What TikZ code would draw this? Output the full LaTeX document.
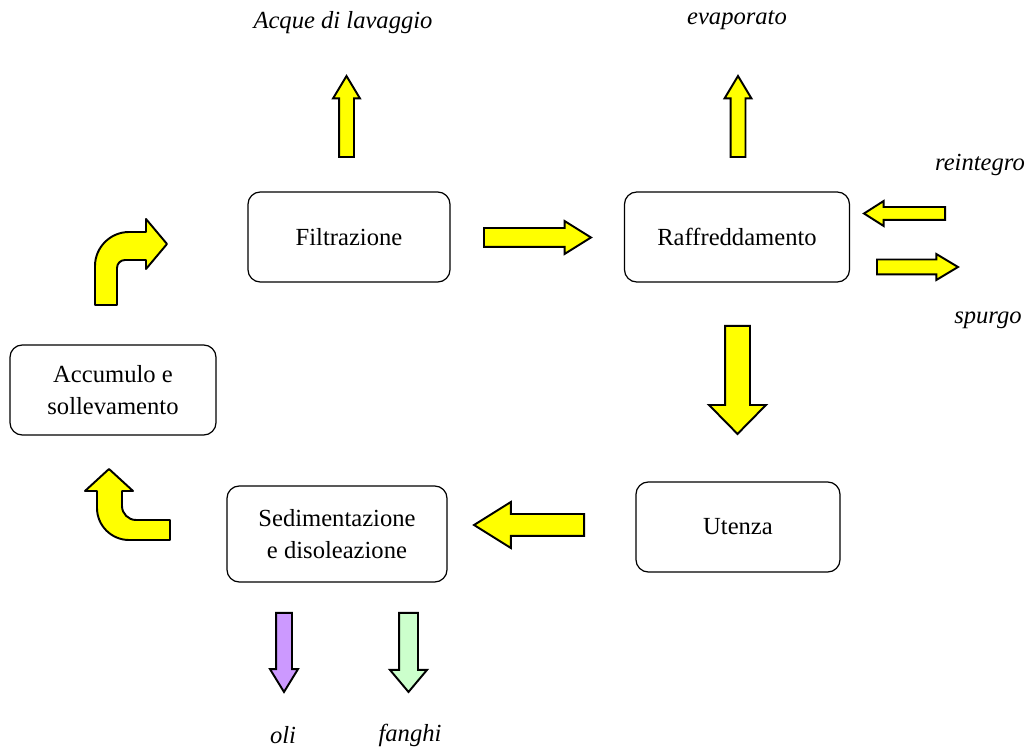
\documentclass[tikz,border=0pt]{standalone}
\usepackage{fontspec}
\setmainfont{Liberation Serif}
\usepackage{tikz}
\usetikzlibrary{arrows}
\usetikzlibrary{shapes}
\usetikzlibrary{shapes.arrows}
\usetikzlibrary{positioning}
\newcommand{\px}{*0.02cm}
\newcommand{\boxfont}{\fontsize{14}{18.5}\selectfont}
\definecolor{giallo}{RGB}{255,255,0}
\definecolor{viola}{RGB}{204,153,255}
\definecolor{verde}{RGB}{204,255,204}
\tikzstyle{block}    = [draw, line width=0.7pt, rectangle, rounded corners=7pt, minimum height=90\px, minimum width=204\px, align=center, font=\boxfont]
\tikzstyle{freccia}  = [draw, line width=1.1pt, single arrow, inner xsep=0pt, fill=giallo, single arrow head indent=0pt, anchor=tail]
\tikzstyle{curva}    = [draw, line width=1.1pt, fill=giallo, line join=round]
\tikzstyle{uscita}   = [font=\boxfont\itshape, inner sep=0pt]

\begin{document}
\begin{tikzpicture}[x=0.02cm, y=-0.02cm]
	\useasboundingbox (0,0) rectangle (1029,749);
	\node[block, minimum width=202\px]	(Filtrazione)		at (349,237) 	{Filtrazione};
	\node[block, minimum width=225\px]	(Raffreddamento)	at (737,237) 	{Raffreddamento};
	\node[block, minimum width=206\px]	(Accumulo)			at (113,390) 	{Accumulo e\\sollevamento};
	\node[block, minimum width=220\px, minimum height=96\px]	(Sedimentazione)	at (337,534) 	{Sedimentazione\\e disoleazione};
	\node[block]						(Utenza)			at (738,527) 	{Utenza};

	% frecce dritte (posizionate dalla coda)
	\node[freccia, rotate=90, inner ysep=6.5\px, minimum height=81\px, minimum width=25\px, single arrow head extend=6\px, single arrow tip angle=62]	(fAcque)	at (346.5,158) {};
	\node[freccia, rotate=90, inner ysep=6.5\px, minimum height=81\px, minimum width=25\px, single arrow head extend=6\px, single arrow tip angle=62]	(fEvap)		at (738,158) {};
	\node[freccia, inner ysep=8.5\px, minimum height=107\px, minimum width=31\px, single arrow head extend=7\px, single arrow tip angle=64]	(fFR)	at (483,237.5) {};
	\node[freccia, rotate=-90, inner ysep=11.5\px, minimum height=108\px, minimum width=55\px, single arrow head extend=16\px, single arrow tip angle=89]	(fRU)	at (737.5,325) {};
	\node[freccia, rotate=180, inner ysep=10\px, minimum height=110\px, minimum width=44\px, single arrow head extend=12\px, single arrow tip angle=64]	(fUS)	at (585,525) {};
	\node[freccia, rotate=180, inner ysep=5.5\px, minimum height=81\px, minimum width=23\px, single arrow head extend=6\px, single arrow tip angle=65]	(fRein)	at (946,213.5) {};
	\node[freccia, inner ysep=6.5\px, minimum height=81\px, minimum width=24\px, single arrow head extend=5.5\px, single arrow tip angle=62]	(fSpurgo)	at (876,267) {};
	\node[freccia, rotate=-90, inner ysep=7\px, fill=viola, minimum height=79\px, minimum width=26\px, single arrow head extend=6\px, single arrow tip angle=63]	(fOli)	at (284,612) {};
	\node[freccia, rotate=-90, inner ysep=8.5\px, fill=verde, minimum height=79\px, minimum width=35\px, single arrow head extend=9\px, single arrow tip angle=80]	(fFanghi)	at (408.5,612) {};

	% frecce curve
	\draw[curva] (95,305) -- (95,266) .. controls (95,247.3) and (110.3,232) .. (129,232) -- (146,232) -- (146,219) -- (167,244) -- (146,269) -- (146,260) -- (125,260) .. controls (120.6,260) and (117,263.6) .. (117,268) -- (117,305) -- cycle;
	\draw[curva] (109,469) -- (133,491) -- (122,491) -- (122,506) .. controls (122,513.7) and (128.3,520) .. (136,520) -- (170,520) -- (170,540) -- (129,540) .. controls (111.4,540) and (97,525.6) .. (97,508) -- (97,491) -- (85,491) -- cycle;

	% scritte
	\node[uscita]	(acque)		at (343,23)		{Acque di lavaggio};
	\node[uscita]	(evaporato)	at (737,20)		{evaporato};
	\node[uscita]	(reintegro)	at (980,165)	{reintegro};
	\node[uscita]	(spurgo)	at (988,320)	{spurgo};
	\node[uscita]	(oli)		at (283,735)	{oli};
	\node[uscita]	(fanghi)	at (410,735)	{fanghi};
\end{tikzpicture}
\end{document}
